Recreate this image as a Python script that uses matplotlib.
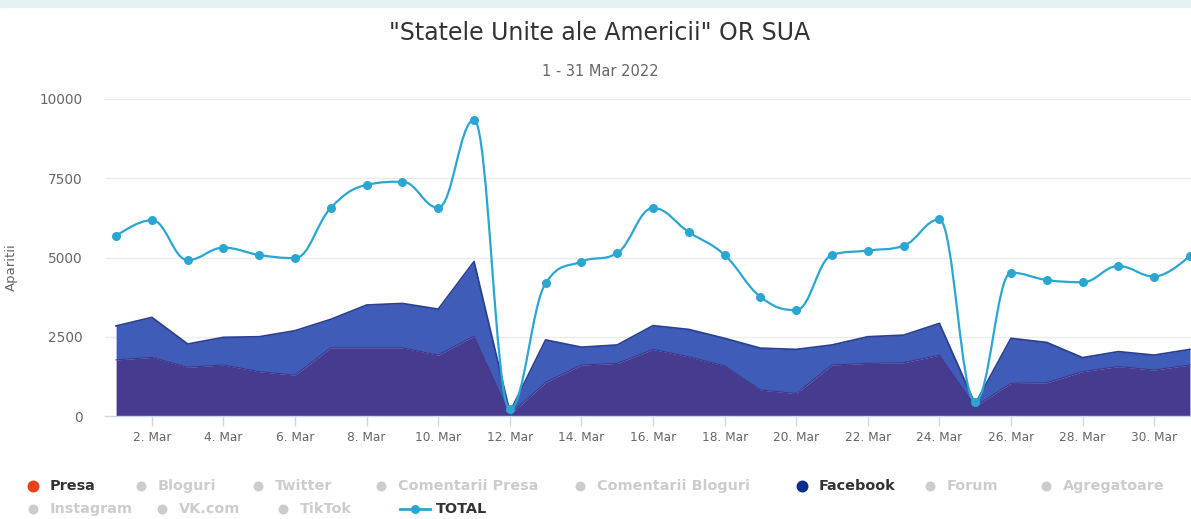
"""
Aparitii "Statele Unite ale Americii" OR SUA, 1 - 31 Mar 2022
"""

import numpy as np
import matplotlib
matplotlib.use('Agg')
from matplotlib import pyplot as plt
from matplotlib.path import Path
from matplotlib.patches import PathPatch, Rectangle
from matplotlib.lines import Line2D

days = list(range(1, 32))

# straturile (stacked): jos + sus
jos = [1770, 1850, 1540, 1610, 1400, 1290, 2150, 2150, 2150, 1920, 2520, 40,
       1060, 1610, 1660, 2100, 1870, 1580, 820, 710, 1610, 1660, 1680, 1920,
       300, 1030, 1050, 1400, 1560, 1450, 1610]
stiva = [2840, 3110, 2270, 2480, 2500, 2690, 3050, 3500, 3550, 3370, 4870, 120,
         2400, 2170, 2240, 2850, 2730, 2450, 2140, 2100, 2240, 2500, 2550, 2920,
         380, 2450, 2320, 1840, 2030, 1920, 2100]
total = [5680, 6180, 4920, 5310, 5080, 4980, 6570, 7290, 7390, 6570, 9340, 220,
         4190, 4870, 5140, 6560, 5800, 5080, 3760, 3340, 5080, 5220, 5370, 6200,
         450, 4520, 4290, 4220, 4730, 4400, 5060]

yticks = [0, 2500, 5000, 7500, 10000]
xticks = list(range(2, 31, 2))
xlabels = ['{}. Mar'.format(d) for d in xticks]

legend_row1 = [('Presa', '#e8401c', True), ('Bloguri', '#cccccc', False),
               ('Twitter', '#cccccc', False), ('Comentarii Presa', '#cccccc', False),
               ('Comentarii Bloguri', '#cccccc', False), ('Facebook', '#0a2e8c', True),
               ('Forum', '#cccccc', False), ('Agregatoare', '#cccccc', False)]
legend_row2 = [('Instagram', '#cccccc', False), ('VK.com', '#cccccc', False),
               ('TikTok', '#cccccc', False)]

C_TOTAL = '#2aa6d2'
C_JOS = '#463b8f'
C_SUS = '#3e5cb8'


def spline_path(x, y, smoothing=1.5):
    """curba tip highcharts spline"""
    n = len(x)
    lc = [None] * n
    rc = [None] * n
    for i in range(1, n - 1):
        px, py = x[i], y[i]
        lx, ly = x[i - 1], y[i - 1]
        nx, ny = x[i + 1], y[i + 1]
        d = smoothing + 1
        lcx = (smoothing * px + lx) / d
        lcy = (smoothing * py + ly) / d
        rcx = (smoothing * px + nx) / d
        rcy = (smoothing * py + ny) / d
        corr = ((rcy - lcy) * (rcx - px)) / (rcx - lcx) + py - rcy
        lcy += corr
        rcy += corr
        if lcy > ly and lcy > py:
            lcy = max(ly, py)
            rcy = 2 * py - lcy
        elif lcy < ly and lcy < py:
            lcy = min(ly, py)
            rcy = 2 * py - lcy
        if rcy > ny and rcy > py:
            rcy = max(ny, py)
            lcy = 2 * py - rcy
        elif rcy < ny and rcy < py:
            rcy = min(ny, py)
            lcy = 2 * py - rcy
        lc[i] = (lcx, lcy)
        rc[i] = (rcx, rcy)
    verts = [(x[0], y[0])]
    codes = [Path.MOVETO]
    for i in range(1, n):
        c1 = rc[i - 1] if rc[i - 1] is not None else (x[i - 1], y[i - 1])
        c2 = lc[i] if lc[i] is not None else (x[i], y[i])
        verts += [c1, c2, (x[i], y[i])]
        codes += [Path.CURVE4] * 3
    return Path(verts, codes)


W, H = 1191, 519
fig = plt.figure(figsize=(W / 100, H / 100), dpi=100)
fig.patch.set_facecolor('white')

# banda de sus
fig.patches.append(Rectangle((0, 1 - 7 / H), 1, 7 / H, transform=fig.transFigure,
                             color='#e4f2f6', zorder=0))

ax = fig.add_axes([105 / W, (H - 416) / H, (W - 105) / W, (416 - 99) / H])
ax.set_xlim(0.69, 31.03)
ax.set_ylim(0, 10000)

for t in yticks[1:]:
    ax.axhline(t, color='#ebebeb', lw=1, zorder=1)

ax.fill_between(days, 0, jos, color=C_JOS, lw=0, zorder=2)
ax.fill_between(days, jos, stiva, color=C_SUS, lw=0, zorder=2)
ax.plot(days, stiva, color='#2b3f93', lw=1.3, zorder=3)
ax.plot(days, jos, color='#3f388a', lw=0.8, zorder=3)

ax.add_patch(PathPatch(spline_path(days, total), facecolor='none', edgecolor=C_TOTAL,
                       lw=1.6, zorder=4, clip_on=True))
ax.plot(days, total, 'o', color=C_TOTAL, ms=6.5, mec='none', zorder=5, clip_on=True)

for s in ['top', 'right', 'left']:
    ax.spines[s].set_visible(False)
ax.spines['bottom'].set_color('#ccd6eb')
ax.spines['bottom'].set_linewidth(1)

ax.set_yticks(yticks)
ax.set_yticklabels([str(t) for t in yticks])
ax.tick_params(axis='y', length=0, pad=16, labelsize=9.8, labelcolor='#666666')
ax.set_xticks(xticks)
ax.set_xticklabels(xlabels)
ax.tick_params(axis='x', length=7, width=1, color='#ccd6eb', pad=4,
               labelsize=8.7, labelcolor='#666666')
ax.set_ylabel('Aparitii', color='#666666', fontsize=9.5, labelpad=10)
ax.yaxis.set_label_coords(-(105 - 18) / (W - 105), 0.47)

fig.text(600 / W, 1 - 33 / H, '"Statele Unite ale Americii" OR SUA', ha='center',
         va='center', fontsize=17, color='#333333')
fig.text(600 / W, 1 - 71 / H, '1 - 31 Mar 2022', ha='center', va='center',
         fontsize=10.5, color='#666666')

# legenda
row1_x = [33, 141, 258, 381, 580, 802, 930, 1046]
row2_x = [33, 162, 283]
for row, xs, yp in [(legend_row1, row1_x, 486), (legend_row2, row2_x, 509)]:
    for (name, col, on), xp in zip(row, xs):
        fig.add_artist(Line2D([xp / W], [1 - yp / H], marker='o', ms=8.6 if on else 7.2,
                              color=col, mec='none', transform=fig.transFigure))
        fig.text((xp + 17) / W, 1 - yp / H, name, ha='left', va='center', fontsize=10.4,
                 fontweight='bold', color='#333333' if on else '#cccccc')
fig.add_artist(Line2D([400 / W, 430 / W], [1 - 509 / H] * 2, color=C_TOTAL, lw=2,
                      transform=fig.transFigure))
fig.add_artist(Line2D([415 / W], [1 - 509 / H], marker='o', ms=6.5, color=C_TOTAL,
                      mec='none', transform=fig.transFigure))
fig.text(436 / W, 1 - 509 / H, 'TOTAL', ha='left', va='center', fontsize=10.4,
         fontweight='bold', color='#333333')

plt.savefig('out.png', dpi=100, facecolor='white')
